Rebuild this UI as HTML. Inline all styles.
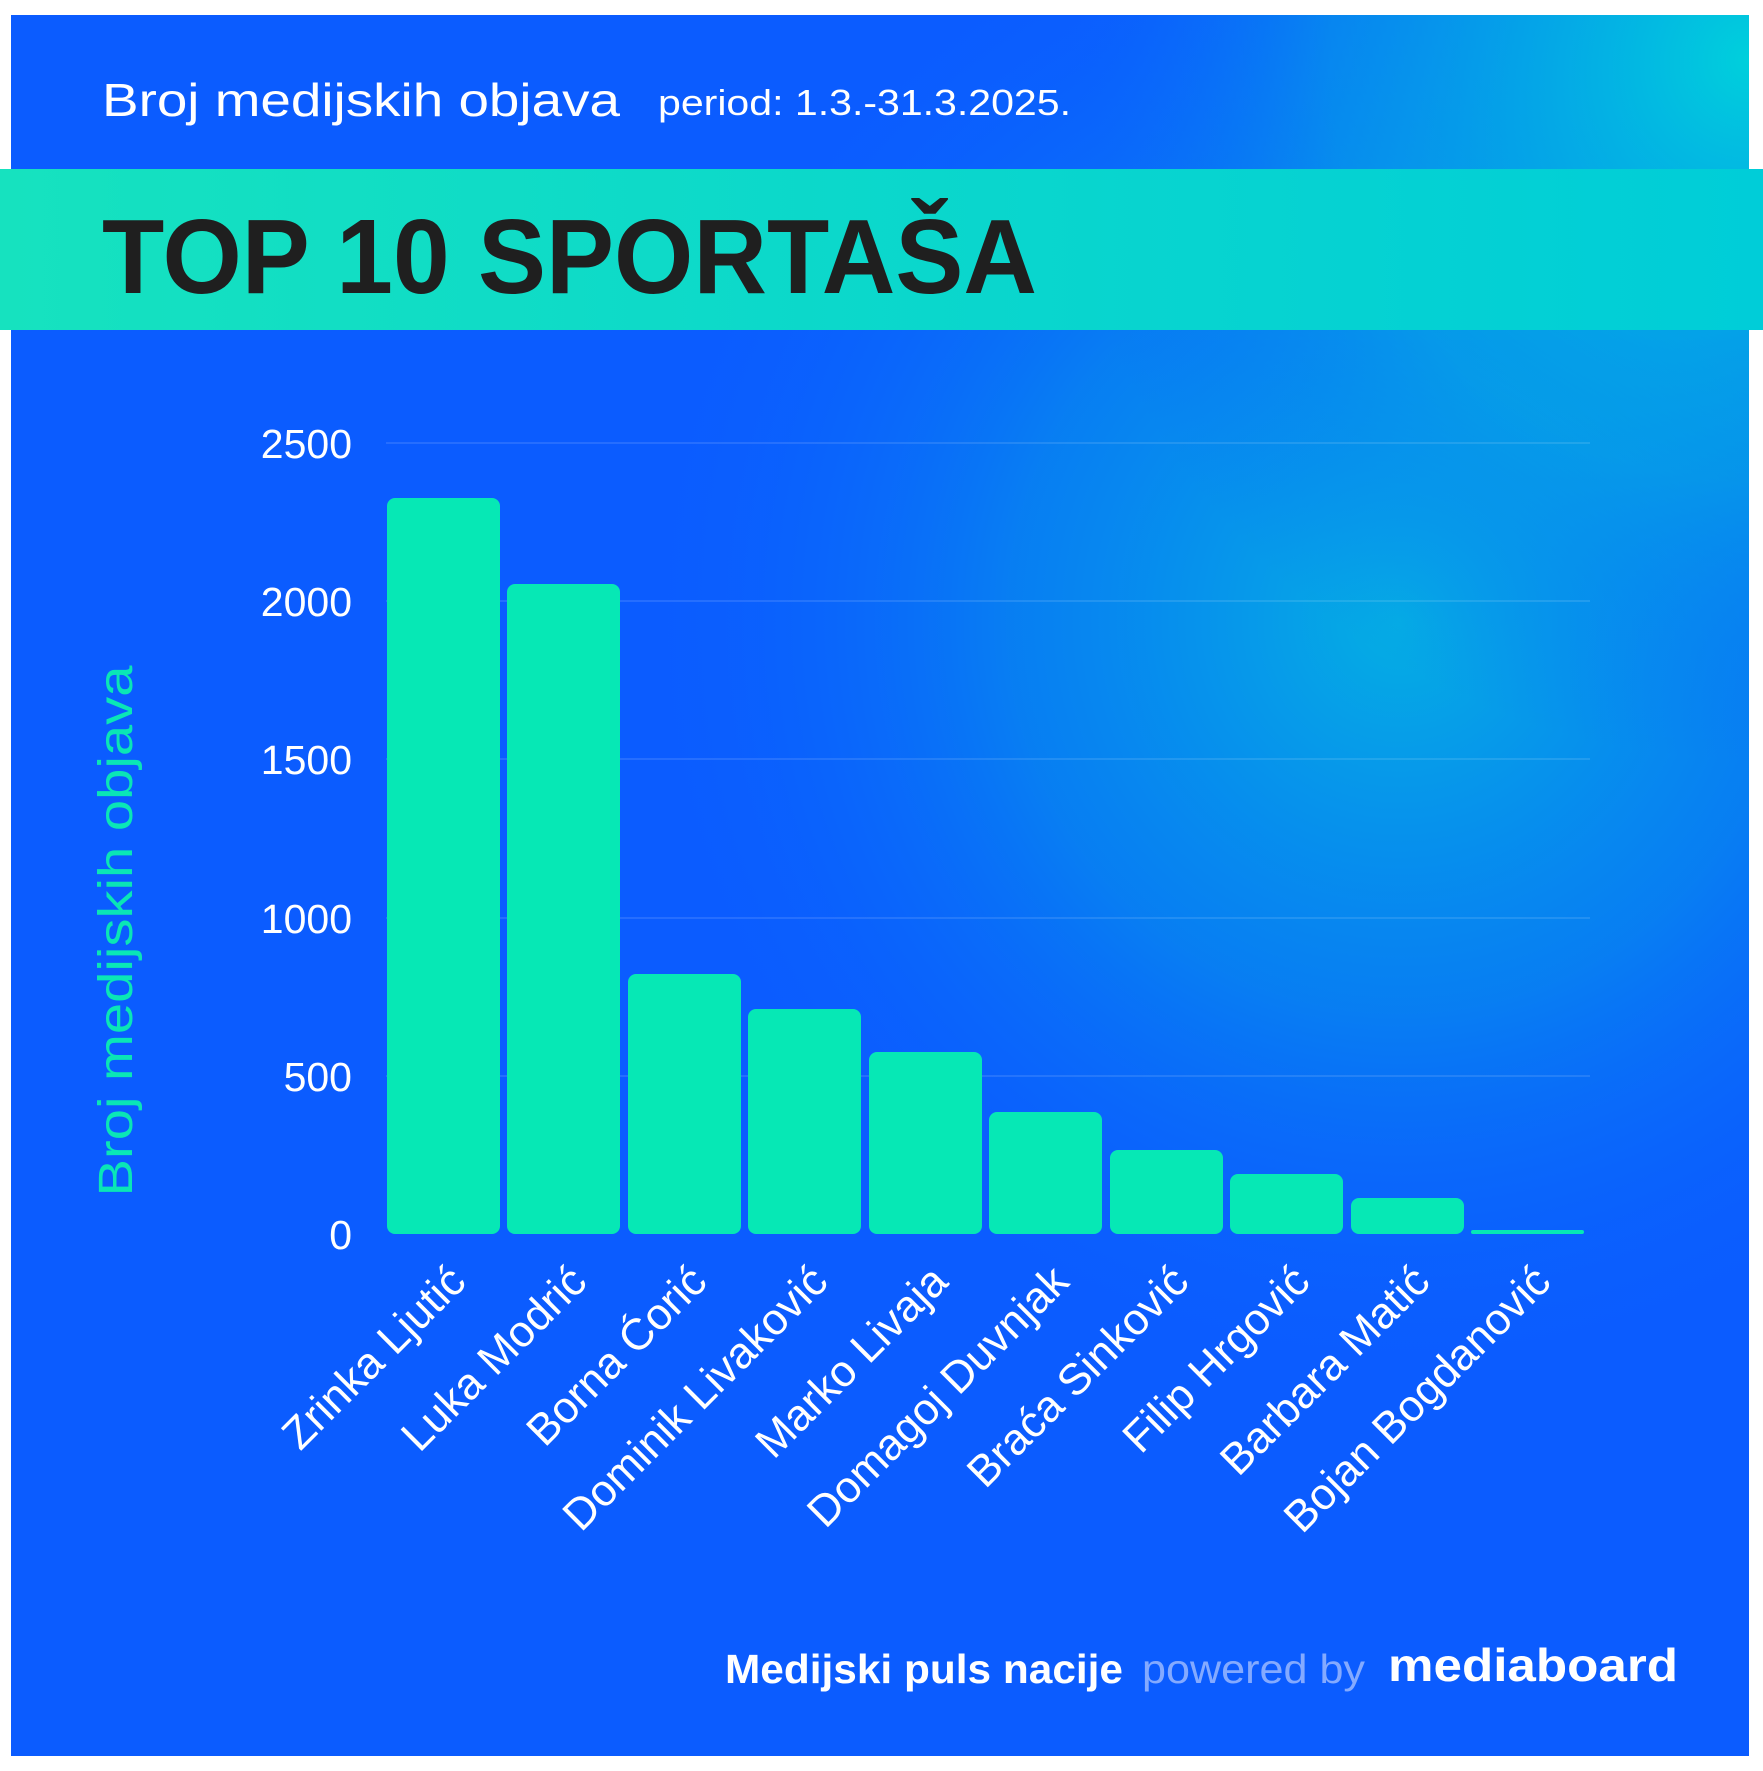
<!DOCTYPE html>
<html><head><meta charset="utf-8"><style>
html,body{margin:0;padding:0;background:#fff}
svg{display:block}
</style></head><body>
<svg width="1763" height="1771" viewBox="0 0 1763 1771" xmlns="http://www.w3.org/2000/svg" font-family="Liberation Sans, sans-serif">
<defs>
<radialGradient id="glow" cx="1400" cy="620" r="780" gradientUnits="userSpaceOnUse">
<stop offset="0" stop-color="#04b8e0" stop-opacity="0.9"/>
<stop offset="0.5" stop-color="#0595ea" stop-opacity="0.6"/>
<stop offset="1" stop-color="#0b5cff" stop-opacity="0"/>
</radialGradient>
<radialGradient id="corner" cx="1750" cy="60" r="700" gradientUnits="userSpaceOnUse">
<stop offset="0" stop-color="#00d0dc" stop-opacity="1"/>
<stop offset="0.6" stop-color="#04a8e4" stop-opacity="0.5"/>
<stop offset="1" stop-color="#0b5cff" stop-opacity="0"/>
</radialGradient>
<linearGradient id="band" x1="0" y1="0" x2="1" y2="0">
<stop offset="0" stop-color="#16e2bf"/><stop offset="1" stop-color="#00cdd8"/>
</linearGradient>
</defs>
<rect x="11" y="15" width="1738" height="1741" fill="#0b5cff"/>
<rect x="11" y="15" width="1738" height="1741" fill="url(#glow)"/>
<rect x="11" y="15" width="1738" height="1741" fill="url(#corner)"/>
<text x="102" y="116" font-size="46" fill="#fff" textLength="518" lengthAdjust="spacingAndGlyphs">Broj medijskih objava</text>
<text x="658" y="115" font-size="36" fill="#fff" textLength="413" lengthAdjust="spacingAndGlyphs">period: 1.3.-31.3.2025.</text>
<rect x="0" y="169" width="1763" height="161" fill="url(#band)"/>
<text x="102" y="293" font-size="106" font-weight="bold" fill="#1f1f1f" textLength="935" lengthAdjust="spacingAndGlyphs">TOP 10 SPORTAŠA</text>
<g stroke="#ffffff" stroke-opacity="0.15" stroke-width="1.5">
<line x1="386" y1="443" x2="1590" y2="443"/><line x1="386" y1="601" x2="1590" y2="601"/>
<line x1="386" y1="759" x2="1590" y2="759"/><line x1="386" y1="918" x2="1590" y2="918"/>
<line x1="386" y1="1076" x2="1590" y2="1076"/>
</g>
<g font-size="41" fill="#fff" text-anchor="end">
<text x="352" y="458">2500</text><text x="352" y="616">2000</text><text x="352" y="774">1500</text>
<text x="352" y="933">1000</text><text x="352" y="1091">500</text><text x="352" y="1249">0</text>
</g>
<text transform="translate(132,931) rotate(-90)" font-size="48" fill="#0ae6b6" text-anchor="middle" textLength="531" lengthAdjust="spacingAndGlyphs">Broj medijskih objava</text>
<g fill="#06e8b5">
<rect x="387" y="498" width="113" height="736" rx="8"/>
<rect x="507" y="584" width="113" height="650" rx="8"/>
<rect x="628" y="974" width="113" height="260" rx="8"/>
<rect x="748" y="1009" width="113" height="225" rx="8"/>
<rect x="869" y="1052" width="113" height="182" rx="8"/>
<rect x="989" y="1112" width="113" height="122" rx="8"/>
<rect x="1110" y="1150" width="113" height="84" rx="8"/>
<rect x="1230" y="1174" width="113" height="60" rx="8"/>
<rect x="1351" y="1198" width="113" height="36" rx="8"/>
<rect x="1471" y="1230" width="113" height="4" rx="2"/>
</g>
<g font-size="44" fill="#fff" text-anchor="end">
<text transform="translate(468,1284) rotate(-45)">Zrinka Ljutić</text>
<text transform="translate(589,1284) rotate(-45)">Luka Modrić</text>
<text transform="translate(709,1284) rotate(-45)">Borna Ćorić</text>
<text transform="translate(830,1284) rotate(-45)">Dominik Livaković</text>
<text transform="translate(950,1284) rotate(-45)">Marko Livaja</text>
<text transform="translate(1071,1284) rotate(-45)">Domagoj Duvnjak</text>
<text transform="translate(1191,1284) rotate(-45)">Braća Sinković</text>
<text transform="translate(1312,1284) rotate(-45)">Filip Hrgović</text>
<text transform="translate(1432,1284) rotate(-45)">Barbara Matić</text>
<text transform="translate(1553,1284) rotate(-45)">Bojan Bogdanović</text>
</g>
<text x="725" y="1683" font-size="41" font-weight="bold" fill="#fff" textLength="398" lengthAdjust="spacingAndGlyphs">Medijski puls nacije</text>
<text x="1142" y="1683" font-size="41" fill="#b8ccff" fill-opacity="0.7" textLength="223" lengthAdjust="spacingAndGlyphs">powered by</text>
<text x="1388" y="1681" font-size="46" font-weight="bold" fill="#fff" textLength="290" lengthAdjust="spacingAndGlyphs">mediaboard</text>
</svg>
</body></html>
